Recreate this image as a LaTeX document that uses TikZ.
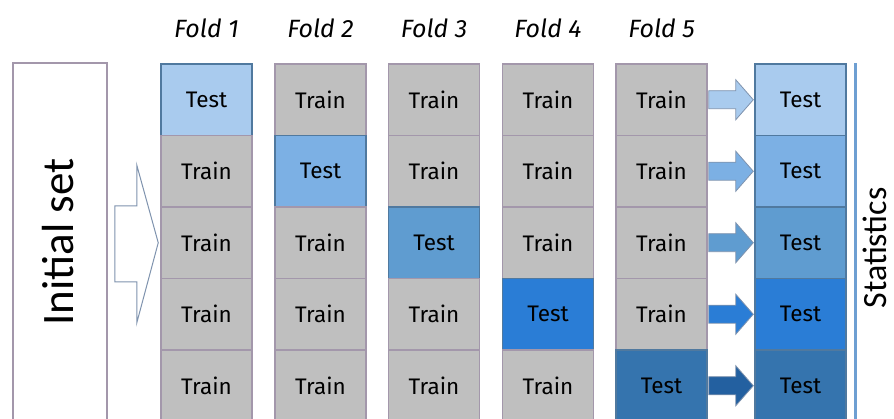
\documentclass[tikz,border=0pt]{standalone}
\usepackage{fontspec}
\setmainfont{Fira Sans}
\newfontfamily\calfont{Carlito}
\usetikzlibrary{calc}
\definecolor{trainfill}{HTML}{BFBFBF}
\definecolor{trainline}{HTML}{A397AB}
\definecolor{testline}{HTML}{50799F}
\definecolor{tone1}{HTML}{A9CBEE}
\definecolor{tone2}{HTML}{7CB0E4}
\definecolor{tone3}{HTML}{5F9CD0}
\definecolor{tone4}{HTML}{2A7DD6}
\definecolor{tone5}{HTML}{3574AE}
\definecolor{arrow5}{HTML}{2360A0}
\definecolor{arrowline}{HTML}{7F93AE}
\definecolor{statline}{HTML}{6E9FD2}

\begin{document}
\begin{tikzpicture}[
  x=1pt, y=-1pt,
  cell/.style={minimum width=91pt, minimum height=71.5pt, inner sep=0pt, line width=1.5pt,
               font=\fontsize{22.5}{26}\selectfont},
  train/.style={cell, draw=trainline, fill=trainfill},
  test/.style={cell, draw=testline},
  fold/.style={font=\fontsize{25}{28}\selectfont\itshape},
  blk/.style={draw=arrowline, line width=0.8pt, line join=miter}
]
\useasboundingbox (0,0) rectangle (894,419);
\clip (0,0) rectangle (894,419);

% initial set
\node[draw=trainline, line width=1.5pt, fill=white, minimum width=94pt, minimum height=362pt,
      inner sep=0pt] (init) at (60,244) {};
\node[rotate=90, font=\calfont\fontsize{45}{48}\selectfont] (initlbl) at (58,242) {Initial set};

% folds
\foreach \c/\x in {1/206.5,2/320.5,3/434,4/548,5/661.5} {
  \node[fold] (lbl\c) at (\x,28) {Fold \c};
  \foreach \r in {1,...,5} {
    \ifnum\c=\r
      \node[test, fill=tone\r] (f\c-\r) at (\x,{64+71.5*(\r-0.5)}) {Test};
    \else
      \node[train] (f\c-\r) at (\x,{64+71.5*(\r-0.5)}) {Train};
    \fi
  }
}

% results
\foreach \r in {1,...,5}
  \node[test, fill=tone\r] (res-\r) at (800.5,{64+71.5*(\r-0.5)}) {Test};

% big hollow arrow
\draw[draw=arrowline, line width=1pt, fill=white]
  ($(init.east)+(7,-38)$) -- ++(22,0) -- ++(0,-41) -- ($(f1-3.west)+(-2,0)$)
  -- ($(init.east)+(29,79)$) -- ++(0,-41) -- ($(init.east)+(7,38)$) -- cycle;

% small arrows
\foreach \r/\col in {1/tone1,2/tone2,3/tone3,4/tone4,5/arrow5}
  \draw[blk, fill=\col]
    ($(f5-\r.east)+(1,-9)$) -- ++(27,0) -- ++(0,-11) -- ($(res-\r.west)+(-1,0)$)
    -- ($(f5-\r.east)+(28,20)$) -- ++(0,-11) -- ($(f5-\r.east)+(1,9)$) -- cycle;

% statistics
\coordinate (stattop) at ($(res-1.north east)+(9,0)$);
\draw[statline, line width=3pt] (stattop) -- ++(0,360);
\node[rotate=90, font=\calfont\fontsize{34}{38}\selectfont] (stats) at (875,248) {Statistics};
\end{tikzpicture}
\end{document}
